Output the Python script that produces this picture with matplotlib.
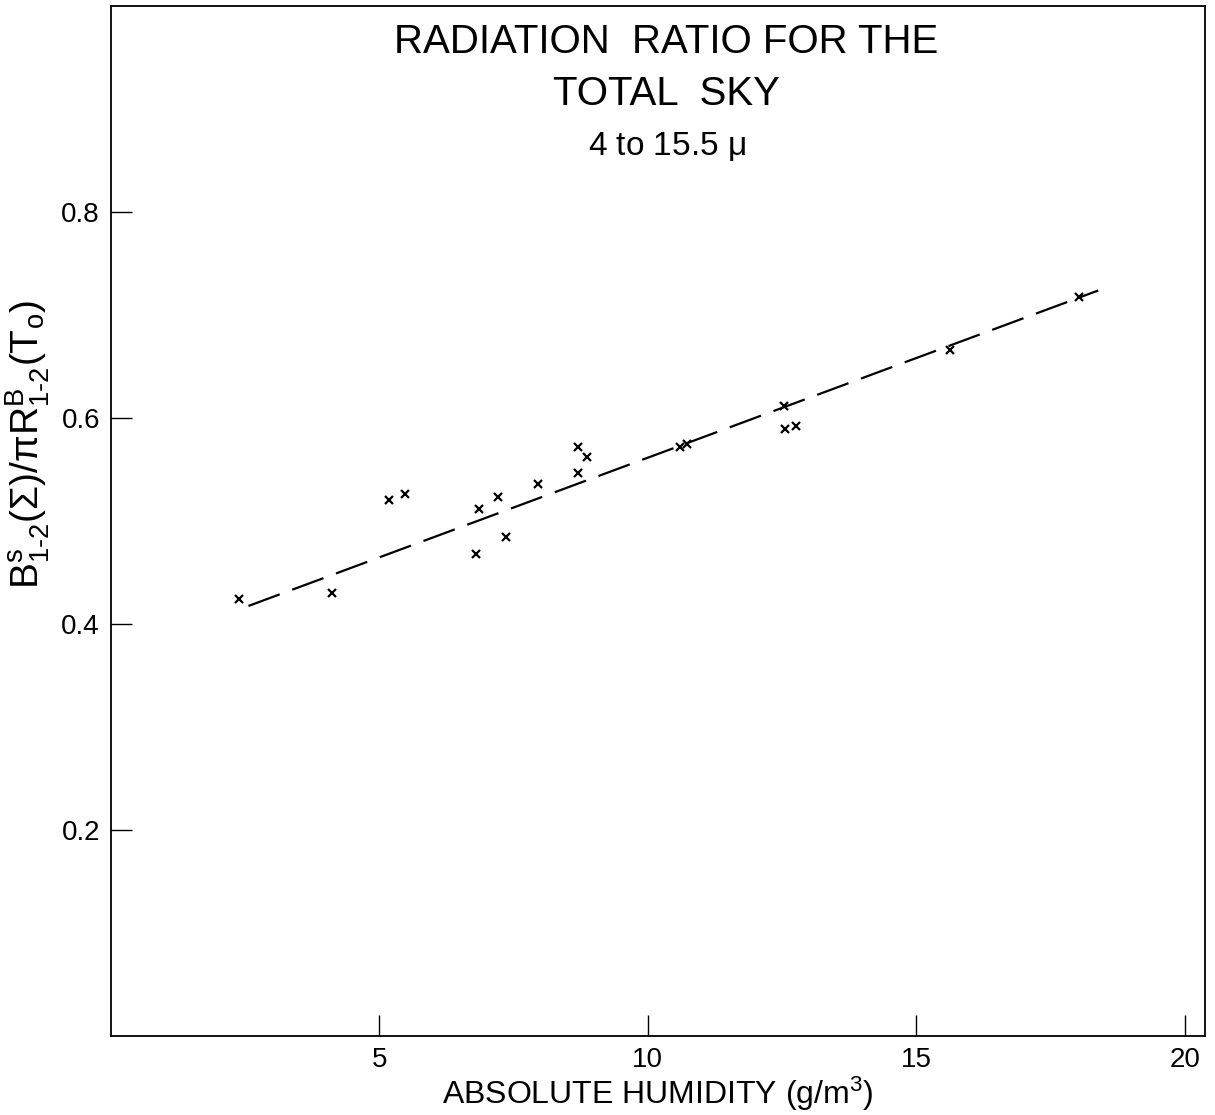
import matplotlib
matplotlib.use("Agg")
import matplotlib.pyplot as plt
import numpy as np

plt.rcParams['font.family'] = ['Liberation Sans', 'DejaVu Sans']
plt.rcParams['mathtext.fontset'] = 'custom'
plt.rcParams['mathtext.rm'] = 'Liberation Sans'
plt.rcParams['mathtext.it'] = 'Liberation Sans'
plt.rcParams['mathtext.default'] = 'regular'

# Absolute humidity (g/m^3) and measured radiation ratio
humidity = [2.39, 4.12, 5.17, 5.47, 6.80, 6.85, 7.20, 7.36, 7.95, 8.70,
            8.86, 8.70, 10.60, 10.72, 12.53, 12.56, 12.76, 15.62, 18.04]
ratio = [0.424, 0.430, 0.520, 0.526, 0.468, 0.512, 0.523, 0.484, 0.536, 0.572,
         0.562, 0.547, 0.572, 0.575, 0.612, 0.589, 0.592, 0.666, 0.717]

# Fitted line end points
fit_x = [2.56, 18.39]
fit_y = [0.4175, 0.7238]

x_ticks = [5, 10, 15, 20]
y_ticks = [0.2, 0.4, 0.6, 0.8]

fig = plt.figure(figsize=(12.15, 11.15), dpi=100)
ax = fig.add_axes([0.0914, 0.0709, 0.9, 0.9237])

ax.plot(humidity, ratio, linestyle='none', marker='x', color='black',
        markersize=6, markeredgewidth=1.6)
ax.plot(fit_x, fit_y, color='black', linewidth=1.6, dashes=(15, 6))

ax.set_xlim(0, 20.37)
ax.set_ylim(0, 1.0)
ax.set_xticks(x_ticks)
ax.set_xticklabels([str(v) for v in x_ticks])
ax.set_yticks(y_ticks)
ax.set_yticklabels([f"{v:.1f}" for v in y_ticks])
ax.tick_params(axis='both', direction='in', length=15, width=1.0,
               labelsize=20, pad=8)

for sp in ax.spines.values():
    sp.set_linewidth(1.3)

ax.set_xlabel('ABSOLUTE HUMIDITY (g/m$^3$)', fontsize=23, labelpad=1)
ax.set_ylabel(r'$B^{s}_{1\text{-}2}(\Sigma)/\pi R^{B}_{1\text{-}2}(T_o)$', fontsize=28)
ax.yaxis.set_label_coords(-0.054, 0.574)

ax.text(0.508, 0.965, 'RADIATION  RATIO FOR THE', transform=ax.transAxes,
        ha='center', va='center', fontsize=29)
ax.text(0.508, 0.9146, 'TOTAL  SKY', transform=ax.transAxes,
        ha='center', va='center', fontsize=29)
ax.text(0.508, 0.864, r'4 to 15.5 $\mu$', transform=ax.transAxes,
        ha='center', va='center', fontsize=24)

fig.savefig('out.png', dpi=100)
